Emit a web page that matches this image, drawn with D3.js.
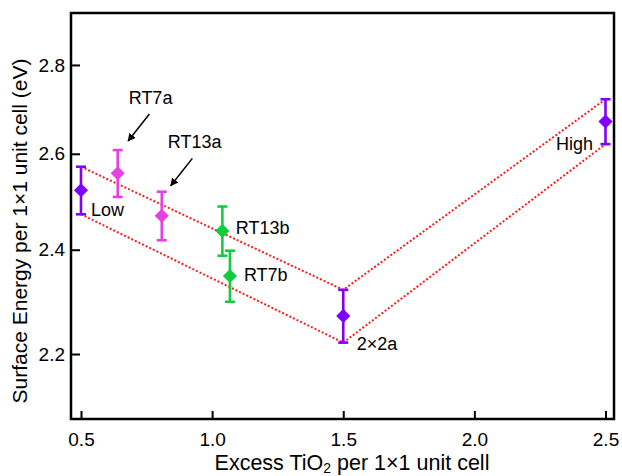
<!DOCTYPE html>
<html>
<head>
<meta charset="utf-8">
<script src="https://cdn.jsdelivr.net/npm/d3@7"></script>
<style>
  body { margin: 0; background: #fff; }
  svg { display: block; font-family: "Liberation Sans", Arial, sans-serif; }
</style>
</head>
<body>
<svg></svg>
<script>
// structures and their values
const names   = ['Low', 'RT7a', 'RT13a', 'RT13b', 'RT7b', '2\u00d72a', 'High'];
const excess  = [0.5, 0.64, 0.808, 1.039, 1.068, 1.5, 2.5];
const energy  = [2.522, 2.558, 2.469, 2.438, 2.348, 2.271, 2.671];
const errs    = [0.05, 0.05, 0.05, 0.05, 0.05, 0.05, 0.05];
const groups  = ['a', 'b', 'b', 'c', 'c', 'a', 'a'];
// points the dotted bounds go through (by index)
const hullIdx = [0, 5, 6];
const xTicks = [0.5, 1.0, 1.5, 2.0, 2.5];
const yTicks = [2.2, 2.4, 2.6, 2.8];

const colors = {a: '#7f00ff', b: '#e63fe3', c: '#12cc3c'};

var svgWidth = 622;
var svgHeight = 476;
var margin = {top: 13, right: 8, bottom: 57, left: 71};

var svg = d3.select('svg')
  .attr('width', svgWidth)
  .attr('height', svgHeight);

var w = svgWidth - margin.left - margin.right;
var h = svgHeight - margin.top - margin.bottom;

var g = svg.append('g')
  .attr('transform', 'translate(' + margin.left + ',' + margin.top + ')');

var xScale = d3.scaleLinear()
  .domain([0.4619, 2.5324])
  .range([0, w]);

var yScale = d3.scaleLog()
  .domain([2.0839, 2.924])
  .range([h, 0]);

var data = names.map((n, i) => ({name: n, x: excess[i], y: energy[i], e: errs[i], g: groups[i]}));

// axes, ticks pointing inward
var xAxis = g.append('g')
  .attr('transform', 'translate(0,' + h + ')')
  .call(d3.axisBottom(xScale).tickValues(xTicks).tickFormat(d3.format('.1f'))
    .tickSize(-8).tickPadding(14));
var yAxis = g.append('g')
  .call(d3.axisLeft(yScale).tickValues(yTicks).tickFormat(d3.format('.1f'))
    .tickSize(-9).tickPadding(6));

[xAxis, yAxis].forEach(a => {
  a.select('.domain').remove();
  a.selectAll('line').attr('stroke', '#000').attr('stroke-width', 2);
  a.selectAll('text').attr('font-size', 19).attr('fill', '#000')
    .attr('font-family', '"Liberation Sans", Arial, sans-serif');
});

// dotted bounds through error bar ends
var line = d3.line().x(d => xScale(d[0])).y(d => yScale(d[1]));
var hull = hullIdx.map(i => data[i]);
[1, -1].forEach(s => {
  g.append('path')
    .attr('d', line(hull.map(d => [d.x, d.y + s * d.e])))
    .attr('fill', 'none')
    .attr('stroke', '#ff1a1a')
    .attr('stroke-width', 2)
    .attr('stroke-dasharray', '2,2');
});

// error bars
var bars = g.selectAll('.bar')
  .data(data)
  .enter()
  .append('g')
  .attr('class', 'bar')
  .attr('stroke', d => colors[d.g])
  .attr('stroke-width', 2.6);
bars.append('line')
  .attr('x1', d => xScale(d.x)).attr('x2', d => xScale(d.x))
  .attr('y1', d => yScale(d.y - d.e)).attr('y2', d => yScale(d.y + d.e));
[1, -1].forEach(s => {
  bars.append('line')
    .attr('x1', d => xScale(d.x) - 5).attr('x2', d => xScale(d.x) + 5)
    .attr('y1', d => yScale(d.y + s * d.e)).attr('y2', d => yScale(d.y + s * d.e));
});

// diamonds
g.selectAll('.pt')
  .data(data)
  .enter()
  .append('path')
  .attr('class', 'pt')
  .attr('d', d3.symbol(d3.symbolSquare, 100))
  .attr('fill', d => colors[d.g])
  .attr('transform', d => 'translate(' + xScale(d.x) + ',' + yScale(d.y) + ') rotate(45)');

// labels (pixel offsets from each point)
var labelOff = {
  'Low': [10, 26, 'start'], 'RT7a': [11, -69, 'start'], 'RT13a': [6, -67.5, 'start'],
  'RT13b': [13.5, 3.5, 'start'], 'RT7b': [14, 5.5, 'start'], '2\u00d72a': [13.5, 34, 'start'],
  'High': [-12.5, 28.5, 'end']
};
g.selectAll('.lbl')
  .data(data)
  .enter()
  .append('text')
  .attr('class', 'lbl')
  .attr('x', d => xScale(d.x) + labelOff[d.name][0])
  .attr('y', d => yScale(d.y) + labelOff[d.name][1])
  .attr('text-anchor', d => labelOff[d.name][2])
  .attr('font-size', 18)
  .text(d => d.name);

// arrows for RT7a and RT13a
svg.append('defs').append('marker')
  .attr('id', 'head')
  .attr('viewBox', '0 0 10 10')
  .attr('refX', 9).attr('refY', 5)
  .attr('markerWidth', 8).attr('markerHeight', 8)
  .attr('markerUnits', 'userSpaceOnUse')
  .attr('orient', 'auto')
  .append('path').attr('d', 'M0,0L10,5L0,10z').attr('fill', '#000');
var arrowOff = {'RT7a': [31.7, -59.3, 10.4, -32.3], 'RT13a': [30.6, -57.4, 9, -30]};
g.selectAll('.arrow')
  .data(data.filter(d => arrowOff[d.name]))
  .enter()
  .append('line')
  .attr('x1', d => xScale(d.x) + arrowOff[d.name][0])
  .attr('y1', d => yScale(d.y) + arrowOff[d.name][1])
  .attr('x2', d => xScale(d.x) + arrowOff[d.name][2])
  .attr('y2', d => yScale(d.y) + arrowOff[d.name][3])
  .attr('stroke', '#000').attr('stroke-width', 1.5)
  .attr('marker-end', 'url(#head)');

// frame
g.append('rect')
  .attr('width', w).attr('height', h)
  .attr('fill', 'none').attr('stroke', '#000').attr('stroke-width', 2.5);

// axis titles
var xt = svg.append('text')
  .attr('x', 352).attr('y', 470)
  .attr('text-anchor', 'middle')
  .attr('font-size', 21.5);
xt.append('tspan').text('Excess TiO');
xt.append('tspan').attr('font-size', 14).attr('dy', 3).text('2');
xt.append('tspan').attr('dy', -3).text(' per 1\u00d71 unit cell');

svg.append('text')
  .attr('transform', 'translate(27,231) rotate(-90)')
  .attr('text-anchor', 'middle')
  .attr('font-size', 21)
  .text('Surface Energy per 1\u00d71 unit cell (eV)');
</script>
</body>
</html>
